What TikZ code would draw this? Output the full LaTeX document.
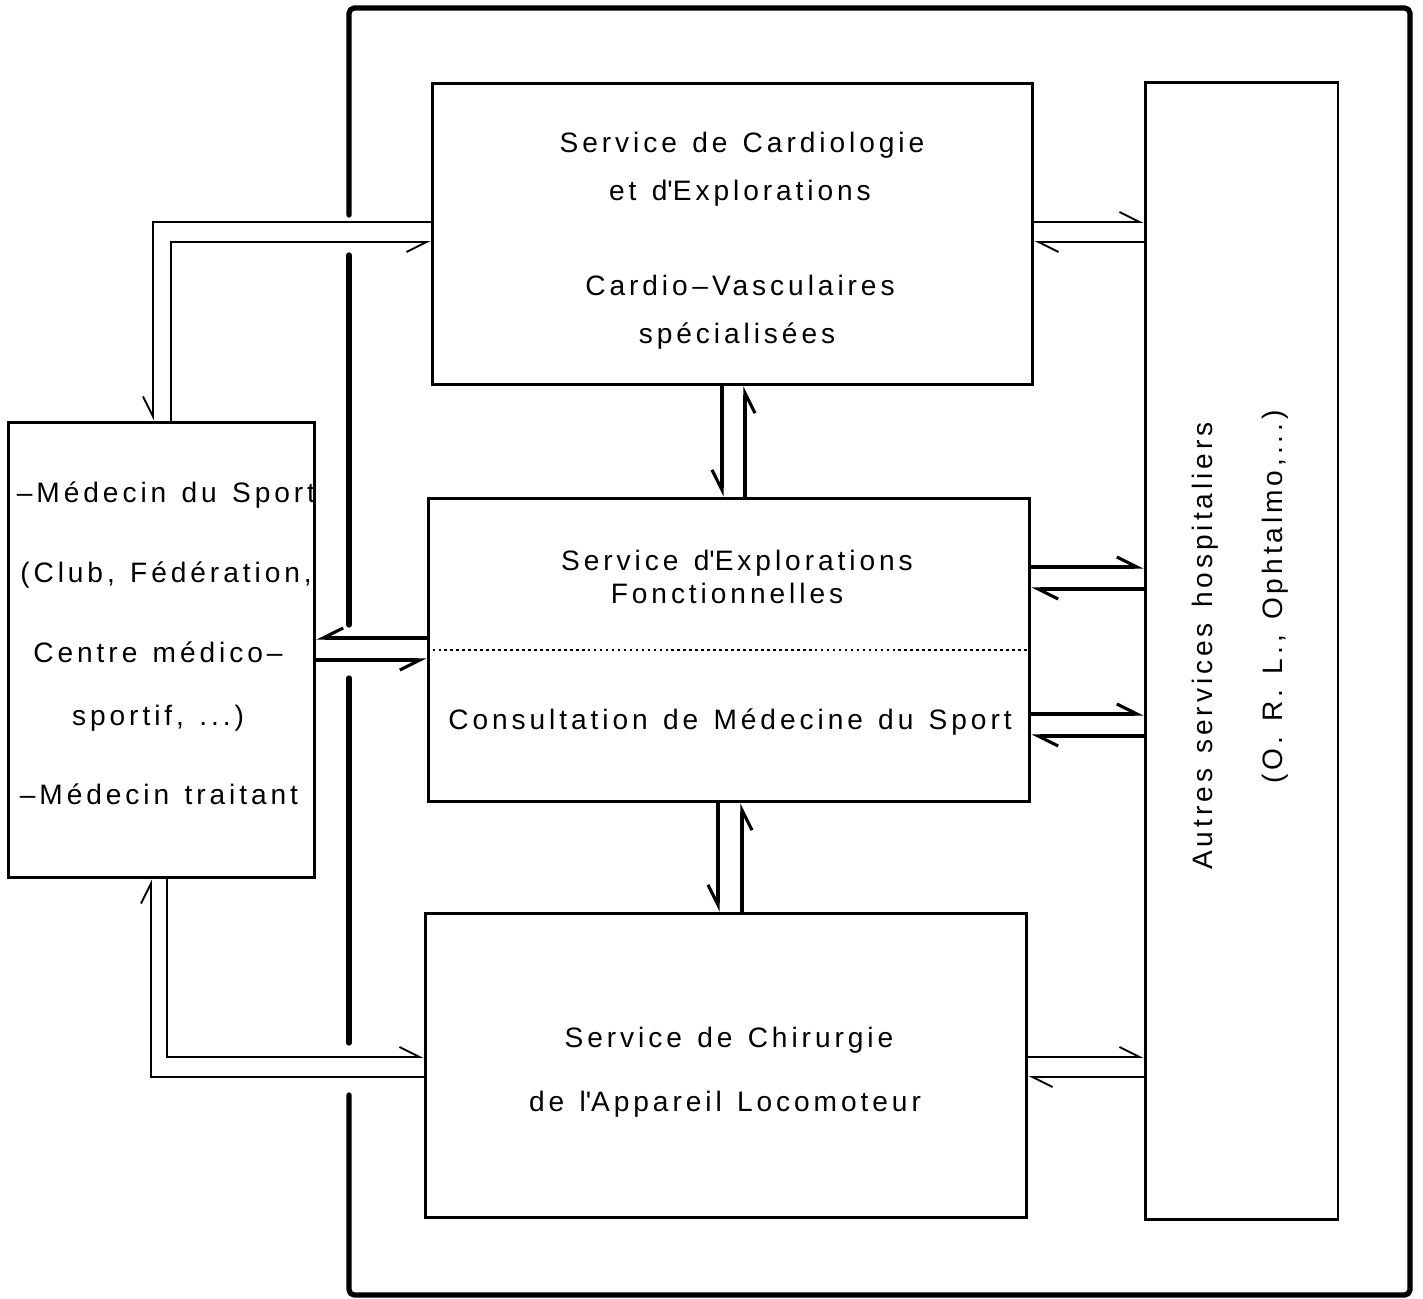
\documentclass[tikz,border=0pt]{standalone}
\usepackage{fontspec}
\setmainfont{Liberation Sans}
\newfontfamily\spacedfont[LetterSpace=14, WordSpace=1.3]{Liberation Sans}
\usetikzlibrary{arrows.meta}
\colorlet{ecol}{black}
\tikzstyle{box}=[draw=ecol, rectangle, line width=1.7pt, inner sep=0pt]
\tikzstyle{txt}=[anchor=base, inner sep=0pt, font=\spacedfont\fontsize{16}{19}\selectfont]
\tikzstyle{frame}=[ecol, line width=3pt, line cap=round, line join=round, rounded corners=3pt]
\tikzstyle{link}=[ecol, line width=1.1pt]
\tikzstyle{mlink}=[ecol, line width=1.8pt]
\tikzset{
  barbl/.tip={Straight Barb[harpoon, length=4mm, width=4mm]},
  barbr/.tip={Straight Barb[harpoon, swap, length=4mm, width=4mm]}
}

\begin{document}
\begin{tikzpicture}[x=0.02cm, y=-0.02cm]
			\useasboundingbox (0,0) rectangle (1423,1298);

			% boxes
			\node[box, minimum width=12.02cm, minimum height=6.04cm] (cardio) at (732.5, 234) {};
			\node[box, minimum width=12.04cm, minimum height=6.08cm] (explo)  at (729, 650) {};
			\node[box, minimum width=12.04cm, minimum height=6.10cm] (chir)   at (726, 1065.5) {};
			\node[box, minimum width=3.86cm,  minimum height=22.76cm] (autres) at (1241.5, 651) {};
			\node[box, minimum width=6.14cm,  minimum height=9.12cm]  (medecin) at (161.5, 650) {};

			%%% Outer frame, open on the left
			\draw[frame] (349, 215) -- (349, 8) -- (1410, 8) -- (1410, 1295) -- (349, 1295) -- (349, 1095);
			\draw[frame] (349, 255) -- (349, 625);
			\draw[frame] (349, 678) -- (349, 1043);

			%%% Texts
			\node[txt] (c1) at (742, 152) {Service de Cardiologie};
			\node[txt] (c2) at (740, 200) {et d\textquotesingle Explorations};
			\node[txt] (c3) at (740, 295) {Cardio\,\textendash Vasculaires};
			\node[txt] (c4) at (737, 343) {spécialisées};

			\node[txt] (e1) at (737, 570) {Service d\textquotesingle Explorations};
			\node[txt] (e2) at (727, 603) {Fonctionnelles};
			\node[txt] (e3) at (730, 729) {Consultation de Médecine du Sport};
			\draw[ecol, line width=1.5pt, dash pattern=on 1.5pt off 1.9pt] (explo.west) -- (explo.east);

			\node[txt] (h1) at (729, 1047) {Service de Chirurgie};
			\node[txt] (h2) at (725, 1111) {de l\textquotesingle Appareil Locomoteur};

			\node[txt] (m1) at (166, 502) {\textendash Médecin du Sport};
			\node[txt] (m2) at (166, 582) {(Club, Fédération,};
			\node[txt] (m3) at (158, 662) {Centre médico\textendash};
			\node[txt] (m4) at (158, 725) {sportif, ...)};
			\node[txt] (m5) at (159, 804) {\textendash Médecin traitant};

			\node[txt, rotate=90] (a1) at (1212, 646) {Autres services hospitaliers};
			\node[txt, rotate=90] (a2) at (1282, 597) {(O. R. L., Ophtalmo,...)};

			%%% Left
			\draw[link, -barbr] (cardio.west |- 0, 222) -| (medecin.north -| 153, 0);
			\draw[link, -barbr] (medecin.north -| 171, 0) |- (cardio.west |- 0, 242);
			\draw[mlink, -barbr] (explo.west |- 0, 638) -- (medecin.east |- 0, 638);
			\draw[mlink, -barbr] (medecin.east |- 0, 660) -- (explo.west |- 0, 660);
			\draw[link, -barbl] (chir.west |- 0, 1077) -| (medecin.south -| 151, 0);
			\draw[link, -barbl] (medecin.south -| 167, 0) |- (chir.west |- 0, 1057);

			%%% Vertical
			\draw[mlink, -barbr] (cardio.south -| 722, 0) -- (explo.north -| 722, 0);
			\draw[mlink, -barbr] (explo.north -| 745, 0) -- (cardio.south -| 745, 0);
			\draw[mlink, -barbr] (explo.south -| 718, 0) -- (chir.north -| 718, 0);
			\draw[mlink, -barbr] (chir.north -| 742, 0) -- (explo.south -| 742, 0);

			%%% Right
			\draw[link, -barbl] (cardio.east |- 0, 222) -- (autres.west |- 0, 222);
			\draw[link, -barbl] (autres.west |- 0, 242) -- (cardio.east |- 0, 242);
			\draw[mlink, -barbl] (explo.east |- 0, 567) -- (autres.west |- 0, 567);
			\draw[mlink, -barbl] (autres.west |- 0, 589) -- (explo.east |- 0, 589);
			\draw[mlink, -barbl] (explo.east |- 0, 714) -- (autres.west |- 0, 714);
			\draw[mlink, -barbl] (autres.west |- 0, 736) -- (explo.east |- 0, 736);
			\draw[link, -barbl] (chir.east |- 0, 1057) -- (autres.west |- 0, 1057);
			\draw[link, -barbl] (autres.west |- 0, 1077) -- (chir.east |- 0, 1077);
\end{tikzpicture}
\end{document}
